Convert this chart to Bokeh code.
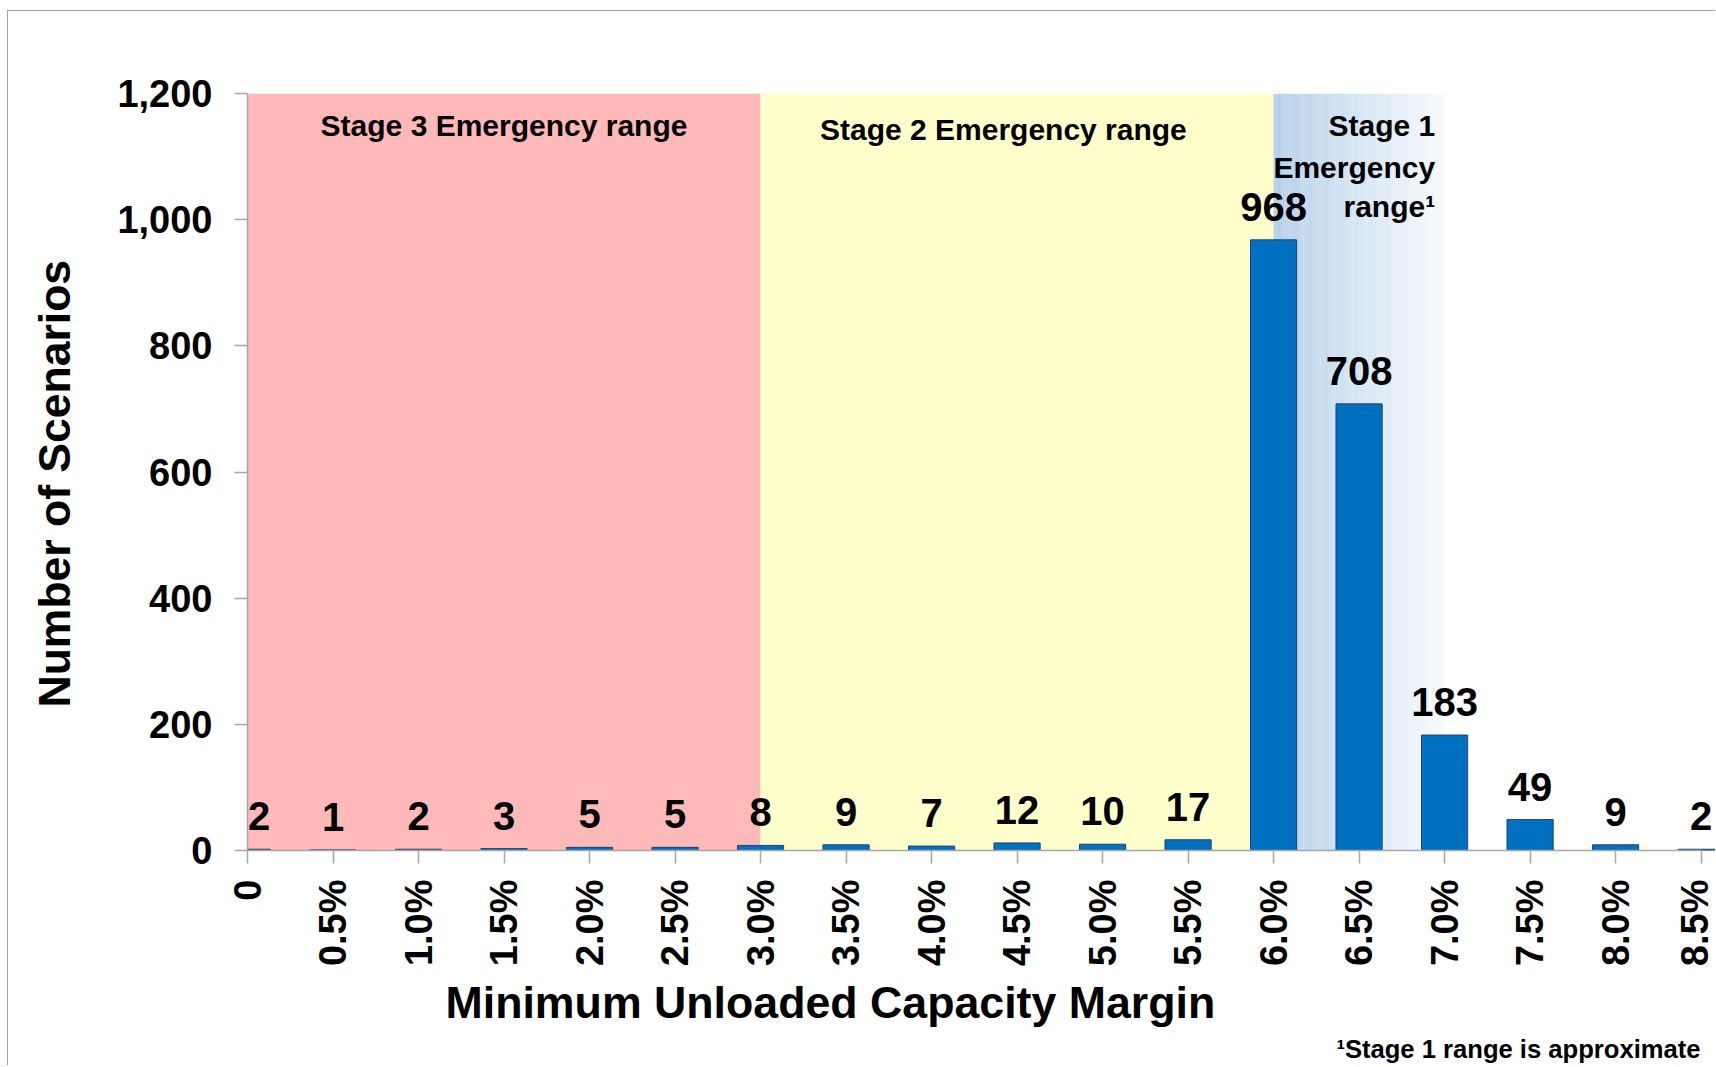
import numpy as np
from bokeh.plotting import figure
from bokeh.models import Range1d, FixedTicker, NumeralTickFormatter, Label, ColumnDataSource, Title
from bokeh.core.properties import value
from bokeh.embed import file_html
from bokeh.resources import INLINE

# ---------------- data ----------------
margin_pct = [0.0, 0.5, 1.0, 1.5, 2.0, 2.5, 3.0, 3.5, 4.0, 4.5, 5.0, 5.5,
              6.0, 6.5, 7.0, 7.5, 8.0, 8.5]
x_tick_labels = ["0", "0.5%", "1.0%", "1.5%", "2.0%", "2.5%", "3.0%", "3.5%",
                 "4.0%", "4.5%", "5.0%", "5.5%", "6.0%", "6.5%", "7.0%",
                 "7.5%", "8.0%", "8.5%"]
scenarios = [2, 1, 2, 3, 5, 5, 8, 9, 7, 12, 10, 17, 968, 708, 183, 49, 9, 2]
y_ticks = [0, 200, 400, 600, 800, 1000, 1200]

stage_names = ["Stage 3 Emergency range", "Stage 2 Emergency range"]
stage_starts = [0.0, 3.0, 6.0]
stage_ends = [3.0, 6.0, 7.0]
stage1_lines = ["Stage 1", "Emergency", "range\u00b9"]

x_title = "Minimum Unloaded Capacity Margin"
y_title = "Number of Scenarios"
footnote = "\u00b9Stage 1 range is approximate"

# ---------------- styles ----------------
FONT = "Liberation Sans"
BAR_W = 0.27
PINK = "#FFB9B9"
YELLOW = "#FFFFCC"
GRAD_L = np.array([180, 207, 234])
GRAD_R = np.array([246, 250, 253])
AXIS_C = "#A6A6A6"

p = figure(width=1708, height=1055, output_backend="svg", toolbar_location=None,
           x_range=Range1d(0, 8.59), y_range=Range1d(0, 1200),
           min_border_left=239, min_border_right=0, min_border_top=82,
           min_border_bottom=216)
p.outline_line_color = None
p.xgrid.visible = False
p.ygrid.visible = False
p.background_fill_color = "white"
p.border_fill_color = "white"
p.styles = {"border-left": "1px solid #A0A0A0", "border-top": "1px solid #A0A0A0",
            "margin-left": "7px", "margin-top": "10px"}

# background stage bands
p.quad(left=stage_starts[0:2], right=stage_ends[0:2], bottom=0, top=y_ticks[-1],
       fill_color=[PINK, YELLOW], line_color=None)
n = 80
edges = np.linspace(stage_starts[2], stage_ends[2], n + 1)
t = (np.arange(n) + 0.5) / n
cols = ["#%02x%02x%02x" % tuple(np.round(GRAD_L + (GRAD_R - GRAD_L) * tt).astype(int)) for tt in t]
p.quad(left=edges[:-1], right=edges[1:], bottom=0, top=y_ticks[-1],
       fill_color=cols, line_color=None)

# bars
src = ColumnDataSource(dict(x=margin_pct, top=scenarios,
                            lx=np.maximum(np.array(margin_pct), BAR_W / 4),
                            txt=[str(v) for v in scenarios]))
p.vbar(x="x", top="top", width=BAR_W, bottom=0, source=src,
       fill_color="#0070C0", line_color="#243F74", line_width=1)
p.text(x="lx", y="top", text="txt", source=src, text_align="center",
       text_baseline="alphabetic", y_offset=-33,
       text_font=value(FONT), text_font_style="bold", text_font_size="40px",
       text_color="black")

# stage labels
lab = dict(text_baseline="middle", text_font=FONT, text_font_style="bold",
           text_font_size="30px", text_color="black")
p.add_layout(Label(x=(stage_starts[0] + stage_ends[0]) / 2, y=1149, text=stage_names[0],
                   text_align="center", **lab))
p.add_layout(Label(x=4.42, y=1143, text=stage_names[1], text_align="center", **lab))
for line, yy in zip(stage1_lines, [1149, 1082, 1021]):
    p.add_layout(Label(x=6.945, y=yy, text=line, text_align="right", **lab))

# axes
p.xaxis.ticker = FixedTicker(ticks=margin_pct)
p.xaxis.major_label_overrides = dict(zip(margin_pct, x_tick_labels))
p.xaxis.major_label_orientation = np.pi / 2
p.xaxis.bounds = (margin_pct[0], margin_pct[-1])
p.yaxis.ticker = FixedTicker(ticks=y_ticks)
p.yaxis.formatter = NumeralTickFormatter(format="0,0")
for ax in (p.xaxis, p.yaxis):
    ax.axis_line_color = AXIS_C
    ax.axis_line_width = 1.5
    ax.major_tick_line_color = AXIS_C
    ax.major_tick_line_width = 1.5
    ax.major_tick_out = 13
    ax.major_tick_in = 0
    ax.minor_tick_line_color = None
    ax.major_label_text_font = FONT
    ax.major_label_text_font_style = "bold"
    ax.major_label_text_font_size = "38px"
    ax.major_label_text_color = "black"
p.xaxis.major_label_standoff = 16
p.yaxis.major_label_standoff = 22
# spacer so the y title sits further left
p.yaxis.axis_label = " "
p.yaxis.axis_label_text_font_size = "1px"
p.yaxis.axis_label_standoff = 31

# axis titles and footnote
p.add_layout(Title(text=x_title, align="left", offset=198, standoff=12,
                   text_font=FONT, text_font_style="bold", text_font_size="44.7px",
                   text_color="black"), "below")
p.add_layout(Title(text=footnote, align="right", offset=16, standoff=0,
                   text_font=FONT, text_font_style="bold", text_font_size="25.6px",
                   text_color="black"), "below")
p.add_layout(Title(text=y_title, align="left", offset=143, standoff=2,
                   text_font=FONT, text_font_style="bold", text_font_size="44.5px",
                   text_color="black"), "left")

open("out.html", "w").write(file_html(p, INLINE))
